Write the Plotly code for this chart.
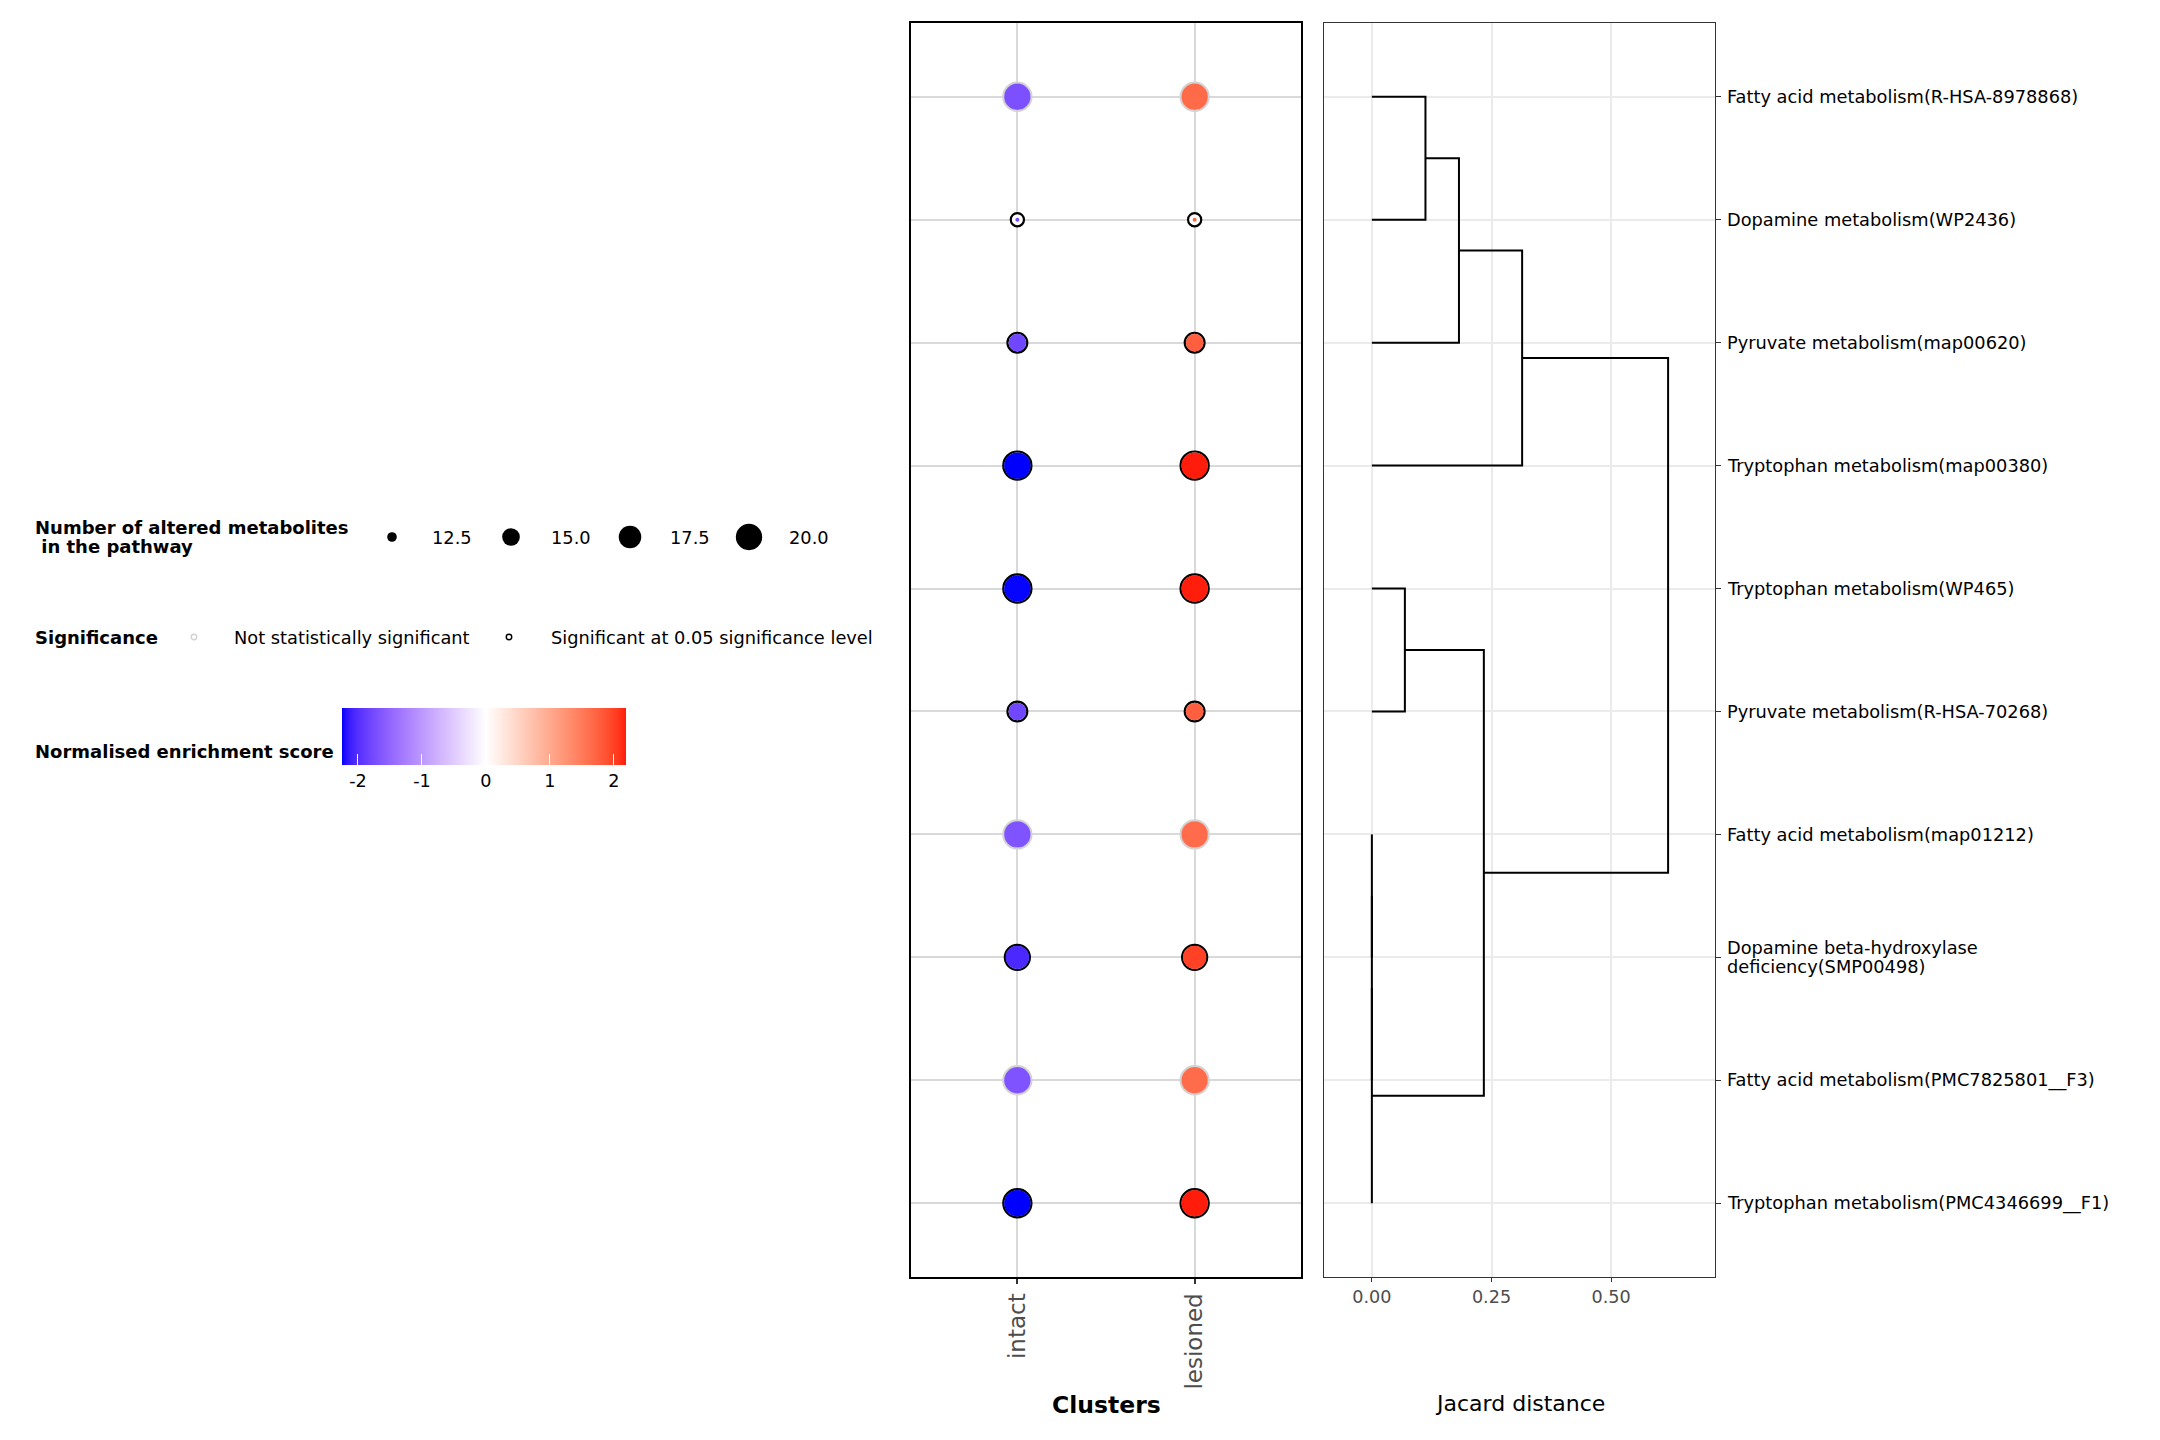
import numpy as np
import plotly.graph_objects as go

# ---------------- data ----------------
pathways = [
    "Fatty acid metabolism(R-HSA-8978868)",
    "Dopamine metabolism(WP2436)",
    "Pyruvate metabolism(map00620)",
    "Tryptophan metabolism(map00380)",
    "Tryptophan metabolism(WP465)",
    "Pyruvate metabolism(R-HSA-70268)",
    "Fatty acid metabolism(map01212)",
    "Dopamine beta-hydroxylase\ndeficiency(SMP00498)",
    "Fatty acid metabolism(PMC7825801__F3)",
    "Tryptophan metabolism(PMC4346699__F1)",
]
clusters = ["intact", "lesioned"]
nes_intact = [-1.70, -1.72, -1.80, -2.25, -2.24, -1.80, -1.68, -2.05, -1.68, -2.25]
nes_lesioned = [1.66, 1.68, 1.76, 2.19, 2.18, 1.76, 1.64, 2.00, 1.64, 2.19]
n_altered = [20, 12, 15, 20, 20, 15, 20, 18, 20, 20]
significant = [False, True, True, True, True, True, False, True, False, True]

# dendrogram (Jacard distance); leaves 0..9 in row order, internal nodes 10..
merge_left = [0, 10, 11, 4, 6, 14, 15, 13, 12]
merge_right = [1, 2, 3, 5, 7, 8, 9, 16, 17]
merge_height = [0.112, 0.182, 0.314, 0.069, 0.0, 0.0, 0.0, 0.234, 0.619]

size_breaks = [12.5, 15.0, 17.5, 20.0]
nes_ticks = [-2, -1, 0, 1, 2]
dist_ticks = [0.0, 0.25, 0.50]
sig_labels = ["Not statistically significant", "Significant at 0.05 significance level"]

# ---------------- helpers ----------------
W, H = 2160, 1440
FONT = "DejaVu Sans"


def _lin(c):
    c = c / 255.0
    return c / 12.92 if c <= 0.04045 else ((c + 0.055) / 1.055) ** 2.4


def _gam(c):
    c = max(0.0, min(1.0, c))
    v = 12.92 * c if c <= 0.0031308 else 1.055 * c ** (1 / 2.4) - 0.055
    return int(round(v * 255))


WX, WY, WZ = 0.95047, 1.0, 1.08883


def rgb_to_lab(rgb):
    r, g, b = [_lin(v) for v in rgb]
    X = 0.4124 * r + 0.3576 * g + 0.1805 * b
    Y = 0.2126 * r + 0.7152 * g + 0.0722 * b
    Z = 0.0193 * r + 0.1192 * g + 0.9505 * b

    def f(t):
        return t ** (1 / 3) if t > 0.008856 else 7.787 * t + 16 / 116

    fx, fy, fz = f(X / WX), f(Y / WY), f(Z / WZ)
    return (116 * fy - 16, 500 * (fx - fy), 200 * (fy - fz))


def lab_to_rgb(lab):
    L, a, b = lab
    fy = (L + 16) / 116
    fx = fy + a / 500
    fz = fy - b / 200

    def finv(t):
        return t ** 3 if t ** 3 > 0.008856 else (t - 16 / 116) / 7.787

    X, Y, Z = WX * finv(fx), WY * finv(fy), WZ * finv(fz)
    r = 3.2406 * X - 1.5372 * Y - 0.4986 * Z
    g = -0.9689 * X + 1.8758 * Y + 0.0415 * Z
    bb = 0.0557 * X - 0.2040 * Y + 1.0570 * Z
    return (_gam(r), _gam(g), _gam(bb))


LAB_LOW = rgb_to_lab((0, 0, 255))
LAB_MID = rgb_to_lab((255, 255, 255))
LAB_HIGH = rgb_to_lab((255, 0, 0))

all_nes = nes_intact + nes_lesioned
cmin, cmax = min(all_nes), max(all_nes)
cabs = max(abs(cmin), abs(cmax))


def nes_color(x):
    q = 0.5 + x / (2 * cabs)
    if q < 0.5:
        t = q / 0.5
        lab = [LAB_LOW[i] + t * (LAB_MID[i] - LAB_LOW[i]) for i in range(3)]
    else:
        t = (q - 0.5) / 0.5
        lab = [LAB_MID[i] + t * (LAB_HIGH[i] - LAB_MID[i]) for i in range(3)]
    r, g, b = lab_to_rgb(lab)
    return f"rgb({r},{g},{b})"


stops = sorted(set(list(np.linspace(0, 1, 61)) + [(0 - cmin) / (cmax - cmin)]))
colorscale = [[float(p), nes_color(cmin + p * (cmax - cmin))] for p in stops]


def fill_d(v):  # fill diameter in px
    return 4 + 7.9 * np.sqrt(max(v - 12, 0))


def ring_d(v):  # outer ring diameter in px
    return -5 + 10.2 * np.sqrt(max(v - 8, 0))


# ---------------- layout geometry ----------------
P1 = (911, 1301)   # dot panel x (px)
P2 = (1324, 1715)  # dendrogram panel x (px)
PY = (23, 1277)    # panels y (px, from top)

dom_x1 = [P1[0] / W, P1[1] / W]
dom_x2 = [P2[0] / W, P2[1] / W]
dom_y = [1 - PY[1] / H, 1 - PY[0] / H]

n = len(pathways)
yrange = [n - 1 + 0.6, -0.6]

fig = go.Figure()

# ---------------- dot panel ----------------
xs = [clusters[0]] * n + [clusters[1]] * n
ys = pathways + pathways
cnt = n_altered + n_altered
sig = significant + significant

fig.add_trace(go.Scatter(
    x=xs, y=ys, mode="markers", xaxis="x", yaxis="y", hoverinfo="skip",
    marker=dict(
        size=[ring_d(v) - 2.2 for v in cnt], color="white", opacity=1,
        line=dict(width=2.2, color=["black" if s else "#d3d3d3" for s in sig]),
    ),
))
fig.add_trace(go.Scatter(
    x=xs, y=ys, mode="markers", xaxis="x", yaxis="y",
    marker=dict(
        size=[fill_d(v) for v in cnt], color=all_nes, colorscale=colorscale,
        cmin=cmin, cmax=cmax, line=dict(width=0), opacity=1,
        showscale=True,
        colorbar=dict(
            orientation="h", x=342 / W, xanchor="left", y=1 - 708 / H, yanchor="top",
            lenmode="pixels", len=284, thicknessmode="pixels", thickness=57,
            xpad=0, ypad=0, outlinewidth=0,
            tickvals=nes_ticks, ticktext=[str(t) for t in nes_ticks],
            ticks="inside", ticklen=11, tickcolor="white", tickwidth=1.2,
            tickfont=dict(family=FONT, size=17.6, color="black"),
        ),
    ),
))

# ---------------- dendrogram ----------------
node_x = {i: 0.0 for i in range(n)}
node_y = {i: float(i) for i in range(n)}
seg_x, seg_y = [], []
for k, (a, b, h) in enumerate(zip(merge_left, merge_right, merge_height)):
    nid = n + k
    seg_x += [node_x[a], h, h, node_x[b], None]
    seg_y += [node_y[a], node_y[a], node_y[b], node_y[b], None]
    node_x[nid] = h
    node_y[nid] = (node_y[a] + node_y[b]) / 2

fig.add_trace(go.Scatter(
    x=seg_x, y=seg_y, mode="lines", xaxis="x2", yaxis="y2", hoverinfo="skip",
    line=dict(color="black", width=2),
))

# ---------------- legends (helper axes in pixel units) ----------------
LEG_W = 900
size_x0, size_step, size_y = 392, 119, 537
fig.add_trace(go.Scatter(
    x=[size_x0 + i * size_step for i in range(len(size_breaks))],
    y=[size_y] * len(size_breaks), mode="markers", xaxis="x3", yaxis="y3",
    hoverinfo="skip",
    marker=dict(size=[fill_d(v) for v in size_breaks], color="black", opacity=1,
                line=dict(width=0)),
))
sig_x = [194, 509]
sig_y = 637
fig.add_trace(go.Scatter(
    x=sig_x, y=[sig_y, sig_y], mode="markers", xaxis="x3", yaxis="y3", hoverinfo="skip",
    marker=dict(size=5.5, color="white", opacity=1,
                line=dict(width=1.4, color=["#d3d3d3", "black"])),
))

annotations = []


def txt(x, y, s, size=17.8, color="black", xanchor="left", ref="3"):
    annotations.append(dict(
        x=x, y=y, xref="x" + ref, yref="y" + ref, text=s, showarrow=False,
        xanchor=xanchor, yanchor="middle", align="left",
        font=dict(family=FONT, size=size, color=color),
    ))


txt(33, 527, "<b>Number of altered metabolites</b>", size=18)
txt(33, 546, "<b>\u00a0in the pathway</b>", size=18)
for i, v in enumerate(size_breaks):
    txt(size_x0 + i * size_step + 38, size_y, f"{v:.1f}")
txt(33, sig_y, "<b>Significance</b>", size=18)
txt(232, sig_y, sig_labels[0])
txt(549, sig_y, sig_labels[1])
txt(33, 751, "<b>Normalised enrichment score</b>", size=18)

# pathway labels right of the dendrogram (tight line spacing)
LINE_H = 19
for i, name in enumerate(pathways):
    lines = name.split("\n")
    for j, ln in enumerate(lines):
        annotations.append(dict(
            x=1725 / W, y=i, xref="paper", yref="y2", text=ln, showarrow=False,
            xanchor="left", yanchor="middle", align="left",
            yshift=-(j - (len(lines) - 1) / 2) * LINE_H,
            font=dict(family=FONT, size=17.8, color="black"),
        ))

# axis titles
annotations.append(dict(
    x=(P1[0] + P1[1]) / 2 / W, y=1 - 1405 / H, xref="paper", yref="paper",
    text="<b>Clusters</b>", showarrow=False, xanchor="center", yanchor="middle",
    font=dict(family=FONT, size=23.5, color="black"),
))
annotations.append(dict(
    x=(P2[0] + P2[1]) / 2 / W, y=1 - 1403 / H, xref="paper", yref="paper",
    text="Jacard distance", showarrow=False, xanchor="center", yanchor="middle",
    font=dict(family=FONT, size=22, color="black"),
))

# white tick marks on the top edge of the colour bar
shapes = []
for t in nes_ticks:
    px = 342 + (t - cmin) / (cmax - cmin) * 284
    shapes.append(dict(type="line", xref="paper", yref="paper",
                       x0=px / W, x1=px / W, y0=1 - 708 / H, y1=1 - 719 / H,
                       line=dict(color="white", width=1.2)))

fig.update_layout(
    width=W, height=H, margin=dict(l=0, r=0, t=0, b=0, autoexpand=False),
    paper_bgcolor="white", plot_bgcolor="white", showlegend=False,
    font=dict(family=FONT, color="black"),
    annotations=annotations, shapes=shapes,
    xaxis=dict(
        domain=dom_x1, anchor="y", type="category", categoryarray=clusters,
        categoryorder="array", range=[-0.6, 1.6],
        showline=True, mirror=True, linecolor="black", linewidth=2.2,
        showgrid=True, gridcolor="#d9d9d9", gridwidth=1.8, zeroline=False,
        ticks="outside", ticklen=5, tickcolor="#333333", tickwidth=1.5,
        tickangle=-90, tickfont=dict(family=FONT, size=23, color="#4d4d4d"),
    ),
    yaxis=dict(
        domain=dom_y, anchor="x", type="category", categoryarray=pathways,
        categoryorder="array", range=yrange,
        showline=True, mirror=True, linecolor="black", linewidth=2.2,
        showgrid=True, gridcolor="#d9d9d9", gridwidth=1.8, zeroline=False,
        showticklabels=False, ticks="",
    ),
    xaxis2=dict(
        domain=dom_x2, anchor="y2", range=[-0.1, 0.717],
        tickvals=dist_ticks, ticktext=[f"{t:.2f}" for t in dist_ticks],
        showline=True, mirror=True, linecolor="#333333", linewidth=1.2,
        showgrid=True, gridcolor="#ebebeb", gridwidth=1.8, zeroline=False,
        ticks="outside", ticklen=4, tickcolor="#333333", tickwidth=1.2,
        tickfont=dict(family=FONT, size=17.6, color="#4d4d4d"),
    ),
    yaxis2=dict(
        domain=dom_y, anchor="x2", side="right", range=yrange,
        tickvals=list(range(n)), showticklabels=False,
        showline=True, mirror=True, linecolor="#333333", linewidth=1.2,
        showgrid=True, gridcolor="#ebebeb", gridwidth=1.8, zeroline=False,
        ticks="outside", ticklen=5, tickcolor="#333333", tickwidth=1.2,
    ),
    xaxis3=dict(domain=[0, LEG_W / W], anchor="y3", range=[0, LEG_W], visible=False),
    yaxis3=dict(domain=[0, 1], anchor="x3", range=[H, 0], visible=False),
)

fig.write_html("out.html", config={"displayModeBar": False},
               post_script="document.body.style.margin='0px';")
